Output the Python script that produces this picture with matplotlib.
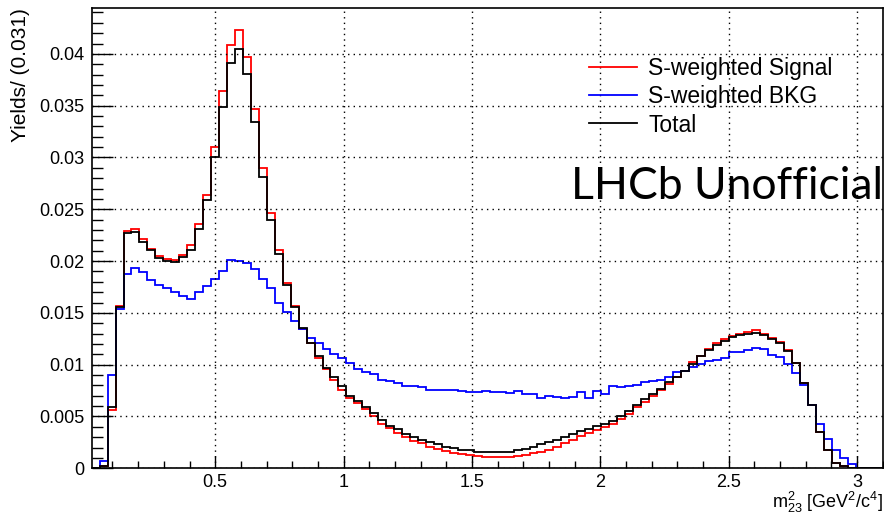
import numpy as np
import matplotlib.pyplot as plt
from matplotlib.ticker import MultipleLocator, FixedLocator

plt.rcParams['font.family'] = ['Liberation Sans', 'DejaVu Sans']
plt.rcParams['mathtext.default'] = 'regular'

# binning: 100 bins of width 0.031 in m23^2
x_lo = 0.019
bin_w = 0.031

signal = [0.0, 0.0002, 0.0056, 0.0157, 0.0229, 0.0231, 0.0221, 0.0212, 0.0205, 0.0202,
          0.0201, 0.0206, 0.0216, 0.0236, 0.0264, 0.0310, 0.0364, 0.0409, 0.0423, 0.0397,
          0.0347, 0.0290, 0.0246, 0.0211, 0.0179, 0.0157, 0.0134, 0.0121, 0.0106, 0.0096,
          0.0085, 0.0076, 0.0068, 0.0063, 0.0057, 0.0050, 0.0043, 0.0039, 0.0034, 0.0030,
          0.0026, 0.0024, 0.0021, 0.0019, 0.0017, 0.0015, 0.0014, 0.0013, 0.0012, 0.0011,
          0.0011, 0.0011, 0.0011, 0.0012, 0.0013, 0.0015, 0.0016, 0.0018, 0.0021, 0.0024,
          0.0027, 0.0031, 0.0034, 0.0037, 0.0040, 0.0043, 0.0048, 0.0052, 0.0059, 0.0064,
          0.0070, 0.0076, 0.0081, 0.0088, 0.0094, 0.0103, 0.0108, 0.0115, 0.0121, 0.0125,
          0.0128, 0.0130, 0.0132, 0.0133, 0.0130, 0.0126, 0.0122, 0.0114, 0.0102, 0.0082,
          0.0061, 0.0035, 0.0018, 0.0005, 0.0002, 0.0, 0.0, 0.0, 0.0, 0.0]

bkg = [0.0, 0.0007, 0.0090, 0.0154, 0.0188, 0.0193, 0.0189, 0.0182, 0.0177, 0.0174,
       0.0170, 0.0166, 0.0163, 0.0170, 0.0176, 0.0183, 0.0190, 0.0201, 0.0200, 0.0198,
       0.0192, 0.0183, 0.0174, 0.0160, 0.0151, 0.0142, 0.0134, 0.0126, 0.0121, 0.0115,
       0.0110, 0.0106, 0.0102, 0.0096, 0.0093, 0.0091, 0.0085, 0.0084, 0.0082, 0.0079,
       0.0079, 0.0078, 0.0076, 0.0076, 0.0076, 0.0076, 0.0075, 0.0074, 0.0074, 0.0075,
       0.0074, 0.0074, 0.0073, 0.0075, 0.0072, 0.0072, 0.0068, 0.0070, 0.0069, 0.0068,
       0.0069, 0.0074, 0.0068, 0.0075, 0.0072, 0.0079, 0.0078, 0.0079, 0.0080, 0.0083,
       0.0084, 0.0085, 0.0088, 0.0093, 0.0094, 0.0098, 0.0101, 0.0104, 0.0105, 0.0106,
       0.0112, 0.0112, 0.0114, 0.0116, 0.0115, 0.0109, 0.0107, 0.0101, 0.0092, 0.0080,
       0.0061, 0.0043, 0.0028, 0.0018, 0.0010, 0.0004, 0.0, 0.0, 0.0, 0.0]

total = [0.0, 0.0002, 0.0059, 0.0156, 0.0227, 0.0228, 0.0218, 0.0211, 0.0203, 0.0200,
         0.0199, 0.0204, 0.0211, 0.0231, 0.0259, 0.0300, 0.0349, 0.0391, 0.0405, 0.0381,
         0.0334, 0.0281, 0.0240, 0.0207, 0.0177, 0.0156, 0.0135, 0.0121, 0.0108, 0.0097,
         0.0088, 0.0079, 0.0070, 0.0065, 0.0059, 0.0053, 0.0047, 0.0041, 0.0038, 0.0033,
         0.0030, 0.0027, 0.0025, 0.0023, 0.0021, 0.0020, 0.0018, 0.0018, 0.0016, 0.0016,
         0.0016, 0.0016, 0.0016, 0.0018, 0.0019, 0.0021, 0.0023, 0.0025, 0.0027, 0.0030,
         0.0033, 0.0036, 0.0038, 0.0041, 0.0043, 0.0046, 0.0050, 0.0055, 0.0061, 0.0067,
         0.0072, 0.0077, 0.0083, 0.0088, 0.0094, 0.0101, 0.0108, 0.0114, 0.0119, 0.0123,
         0.0127, 0.0129, 0.0130, 0.0131, 0.0129, 0.0125, 0.0121, 0.0113, 0.0102, 0.0082,
         0.0061, 0.0035, 0.0018, 0.0005, 0.0002, 0.0, 0.0, 0.0, 0.0, 0.0]

edges = x_lo + bin_w * np.arange(len(signal) + 1)

fig = plt.figure(figsize=(8.84, 5.15), dpi=100)
ax = fig.add_axes([0.1037, 0.0907, 0.895, 0.8932])

ax.stairs(signal, edges, color='#ff0000', lw=1.3, label='S-weighted Signal')
ax.stairs(bkg, edges, color='#0000ff', lw=1.3, label='S-weighted BKG')
ax.stairs(total, edges, color='black', lw=1.3, label='Total')

ax.set_xlim(x_lo, 3.10)
ax.set_ylim(0, 0.0444)

ax.xaxis.set_major_locator(FixedLocator([0.5, 1, 1.5, 2, 2.5, 3]))
ax.xaxis.set_minor_locator(MultipleLocator(0.1))
ax.yaxis.set_major_locator(MultipleLocator(0.005))
ax.yaxis.set_minor_locator(MultipleLocator(0.001))
ax.xaxis.set_major_formatter(lambda v, p: '%g' % round(v, 4))
ax.yaxis.set_major_formatter(lambda v, p: '%g' % round(v, 4))

ax.tick_params(which='both', direction='in', top=False, right=False, labelsize=13)
ax.tick_params(axis='y', which='major', length=15, width=1, pad=5)
ax.tick_params(axis='y', which='minor', length=8, width=1)
ax.tick_params(axis='x', which='major', length=9, width=1, pad=4)
ax.tick_params(axis='x', which='minor', length=5, width=1)
for s in ax.spines.values():
    s.set_linewidth(1.2)

ax.grid(True, which='major', color='black', ls=(0, (1, 3)), lw=1)

ax.set_ylabel('Yields/ (0.031)', fontsize=15, loc='top')
ax.yaxis.set_label_coords(-0.078, 1.0)
ax.set_xlabel(r'm$^{2}_{23}$ [GeV$^{2}$/c$^{4}$]', fontsize=13, loc='right')
ax.xaxis.set_label_coords(1.0, -0.046)

ax.legend(loc='upper left', bbox_to_anchor=(0.602, 0.938), frameon=False,
          fontsize=16.5, handlelength=2.1, labelspacing=0.22, handletextpad=0.5)

fig.text(0.822, 0.637, 'LHCb Unofficial', fontsize=32, family='Lato',
         ha='center', va='center')

fig.savefig('out.png', dpi=100)
